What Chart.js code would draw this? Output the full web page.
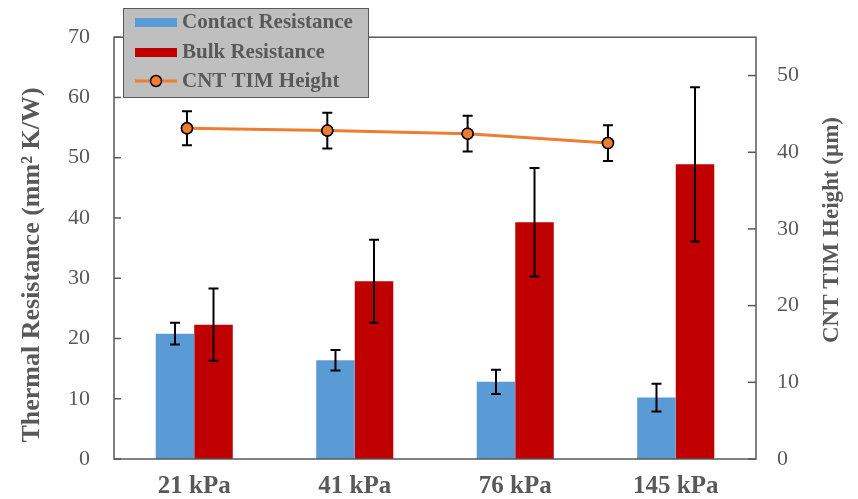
<!DOCTYPE html>
<html lang="en">
<head>
    <meta charset="UTF-8">
    <title>Thermal Resistance vs Pressure</title>
    <script src="https://cdn.jsdelivr.net/npm/chart.js"></script>
    <style>
        body { margin: 0; padding: 0; background: #ffffff; }
        #wrap { position: relative; width: 858px; height: 499px; }
        #wrap canvas { position: absolute; left: 0; top: 0; }
    </style>
</head>
<body>
    <div id="wrap">
        <canvas id="barChart" width="858" height="499"></canvas>
        <canvas id="lineChart" width="858" height="499"></canvas>
    </div>

    <script>
        // Datos
        const pressures = ['21 kPa', '41 kPa', '76 kPa', '145 kPa'];
        const contactRes = [20.8, 16.4, 12.8, 10.2];
        const contactErr = [1.8, 1.7, 2.0, 2.3];
        const bulkRes = [22.3, 29.5, 39.3, 48.9];
        const bulkErr = [6.0, 6.9, 9.0, 12.8];
        const tipPos = [1, 2, 3, 4];
        const timHeight = [42.6, 42.3, 41.9, 40.7];
        const heightErr = [2.2, 2.3, 2.3, 2.3];
        const leftTitle = 'Thermal Resistance (mm² K/W)';
        const rightTitle = 'CNT TIM Height (µm)';

        const gray = '#595959';
        const serif = "'Liberation Serif', 'Times New Roman', serif";
        // mismo area de dibujo en los dos graficos
        const area = { left: 114, right: 102, top: 32, bottom: 40 };

        // barras de error de cualquier dataset que tenga "errors"
        function drawErrors(chart) {
            const ctx = chart.ctx;
            ctx.save();
            ctx.strokeStyle = '#000000';
            ctx.lineWidth = 2;
            chart.data.datasets.forEach((ds, i) => {
                if (!ds.errors) return;
                const meta = chart.getDatasetMeta(i);
                const sc = chart.scales[meta.yAxisID];
                meta.data.forEach((el, j) => {
                    const v = meta.controller.getParsed(j).y;
                    const hi = sc.getPixelForValue(v + ds.errors[j]);
                    const lo = sc.getPixelForValue(v - ds.errors[j]);
                    ctx.beginPath();
                    ctx.moveTo(el.x, hi); ctx.lineTo(el.x, lo);
                    ctx.moveTo(el.x - 5, hi); ctx.lineTo(el.x + 5, hi);
                    ctx.moveTo(el.x - 5, lo); ctx.lineTo(el.x + 5, lo);
                    ctx.stroke();
                });
            });
            ctx.restore();
        }

        // Grafico de barras: ejes, marco, titulos
        const barPlugin = {
            id: 'barExtras',
            afterDatasetsDraw(chart) {
                const ctx = chart.ctx;
                const a = chart.chartArea;
                ctx.save();
                ctx.strokeStyle = gray;
                ctx.lineWidth = 1.5;
                ctx.strokeRect(a.left, a.top, a.right - a.left, a.bottom - a.top);
                const yl = chart.scales.y, yr = chart.scales.y1;
                yl.ticks.forEach(t => {
                    const py = yl.getPixelForValue(t.value);
                    ctx.beginPath(); ctx.moveTo(a.left, py); ctx.lineTo(a.left + 7, py); ctx.stroke();
                });
                yr.ticks.forEach(t => {
                    const py = yr.getPixelForValue(t.value);
                    ctx.beginPath(); ctx.moveTo(a.right, py); ctx.lineTo(a.right - 8, py); ctx.stroke();
                });
                ctx.restore();
                drawErrors(chart);
            },
            afterDraw(chart) {
                const ctx = chart.ctx;
                ctx.save();
                ctx.fillStyle = gray;
                ctx.textAlign = 'center';
                ctx.textBaseline = 'middle';
                ctx.translate(32, 265);
                ctx.rotate(-Math.PI / 2);
                ctx.font = 'bold 26px ' + serif;
                ctx.fillText(leftTitle, 0, 0);
                ctx.setTransform(1, 0, 0, 1, 0, 0);
                ctx.translate(832, 230);
                ctx.rotate(-Math.PI / 2);
                ctx.font = 'bold 23px ' + serif;
                ctx.fillText(rightTitle, 0, 0);
                ctx.restore();
            }
        };

        const barChart = new Chart(document.getElementById('barChart').getContext('2d'), {
            type: 'bar',
            data: {
                labels: pressures,
                datasets: [
                    {
                        label: 'Contact Resistance',
                        data: contactRes,
                        errors: contactErr,
                        backgroundColor: '#5b9bd5',
                        barPercentage: 1.0,
                        categoryPercentage: 0.48
                    },
                    {
                        label: 'Bulk Resistance',
                        data: bulkRes,
                        errors: bulkErr,
                        backgroundColor: '#c00000',
                        barPercentage: 1.0,
                        categoryPercentage: 0.48
                    }
                ]
            },
            options: {
                responsive: false,
                animation: false,
                layout: { padding: { top: area.top - 4, left: 0, right: 0, bottom: 0 } },
                plugins: {
                    legend: { display: false },
                    tooltip: { enabled: false }
                },
                scales: {
                    x: {
                        grid: { display: false, drawTicks: false },
                        border: { display: false },
                        ticks: {
                            padding: 13,
                            color: gray,
                            font: { family: serif, size: 25, weight: 'bold' }
                        },
                        afterFit(s) { s.height = area.bottom; }
                    },
                    y: {
                        position: 'left',
                        min: 0,
                        max: 70,
                        grid: { display: false, drawTicks: false },
                        border: { display: false },
                        ticks: {
                            stepSize: 10,
                            padding: 24,
                            color: gray,
                            font: { family: serif, size: 22 }
                        },
                        afterFit(s) { s.width = area.left; }
                    },
                    y1: {
                        type: 'linear',
                        position: 'right',
                        min: 0,
                        max: 55,
                        grid: { display: false, drawTicks: false },
                        border: { display: false },
                        afterBuildTicks(s) {
                            s.ticks = s.ticks.filter(t => t.value % 10 === 0);
                        },
                        ticks: {
                            stepSize: 10,
                            padding: 21,
                            color: gray,
                            font: { family: serif, size: 22 }
                        },
                        afterFit(s) { s.width = area.right; }
                    }
                }
            },
            plugins: [barPlugin]
        });

        // Grafico de linea encima (mismo area), con la leyenda
        const linePlugin = {
            id: 'lineExtras',
            afterDatasetsDraw(chart) {
                drawErrors(chart);
                chart.getDatasetMeta(0).data.forEach(p => p.draw(chart.ctx, chart.chartArea));
            },
            afterDraw(chart) {
                const ctx = chart.ctx;
                const items = barChart.data.datasets.concat(chart.data.datasets);
                const bx = 123, by = 8, bw = 245, bh = 89;
                ctx.save();
                ctx.fillStyle = '#bfbfbf';
                ctx.fillRect(bx, by, bw, bh);
                ctx.strokeStyle = gray;
                ctx.lineWidth = 1;
                ctx.strokeRect(bx + 0.5, by + 0.5, bw, bh);
                ctx.font = 'bold 21px ' + serif;
                ctx.textAlign = 'left';
                ctx.textBaseline = 'middle';
                const rows = [22, 52, 81];
                items.forEach((ds, i) => {
                    const cy = rows[i];
                    if (ds.borderColor && ds.pointBackgroundColor) {
                        ctx.strokeStyle = ds.borderColor;
                        ctx.lineWidth = 3;
                        ctx.beginPath(); ctx.moveTo(135, cy); ctx.lineTo(177, cy); ctx.stroke();
                        ctx.fillStyle = ds.pointBackgroundColor;
                        ctx.strokeStyle = '#000000';
                        ctx.lineWidth = 1.5;
                        ctx.beginPath(); ctx.arc(156, cy, 5.5, 0, Math.PI * 2); ctx.fill(); ctx.stroke();
                    } else {
                        ctx.fillStyle = ds.backgroundColor;
                        ctx.fillRect(135, cy - 4, 42, 9);
                    }
                    ctx.fillStyle = gray;
                    ctx.fillText(ds.label, 182, cy + 1);
                });
                ctx.restore();
            }
        };

        const lineChart = new Chart(document.getElementById('lineChart').getContext('2d'), {
            type: 'line',
            data: {
                datasets: [
                    {
                        label: 'CNT TIM Height',
                        data: tipPos.map((x, i) => ({x, y: timHeight[i]})),
                        errors: heightErr,
                        borderColor: '#ed7d31',
                        borderWidth: 3,
                        pointBackgroundColor: '#ed7d31',
                        pointBorderColor: '#000000',
                        pointBorderWidth: 1.5,
                        pointRadius: 5.5,
                        yAxisID: 'y1'
                    }
                ]
            },
            options: {
                responsive: false,
                animation: false,
                layout: { padding: area },
                plugins: {
                    legend: { display: false },
                    tooltip: { enabled: false }
                },
                scales: {
                    x: { type: 'linear', display: false, offset: false, min: 0.48, max: 5.055 },
                    y1: { type: 'linear', display: false, min: 0, max: 55 }
                }
            },
            plugins: [linePlugin]
        });
    </script>
</body>
</html>
